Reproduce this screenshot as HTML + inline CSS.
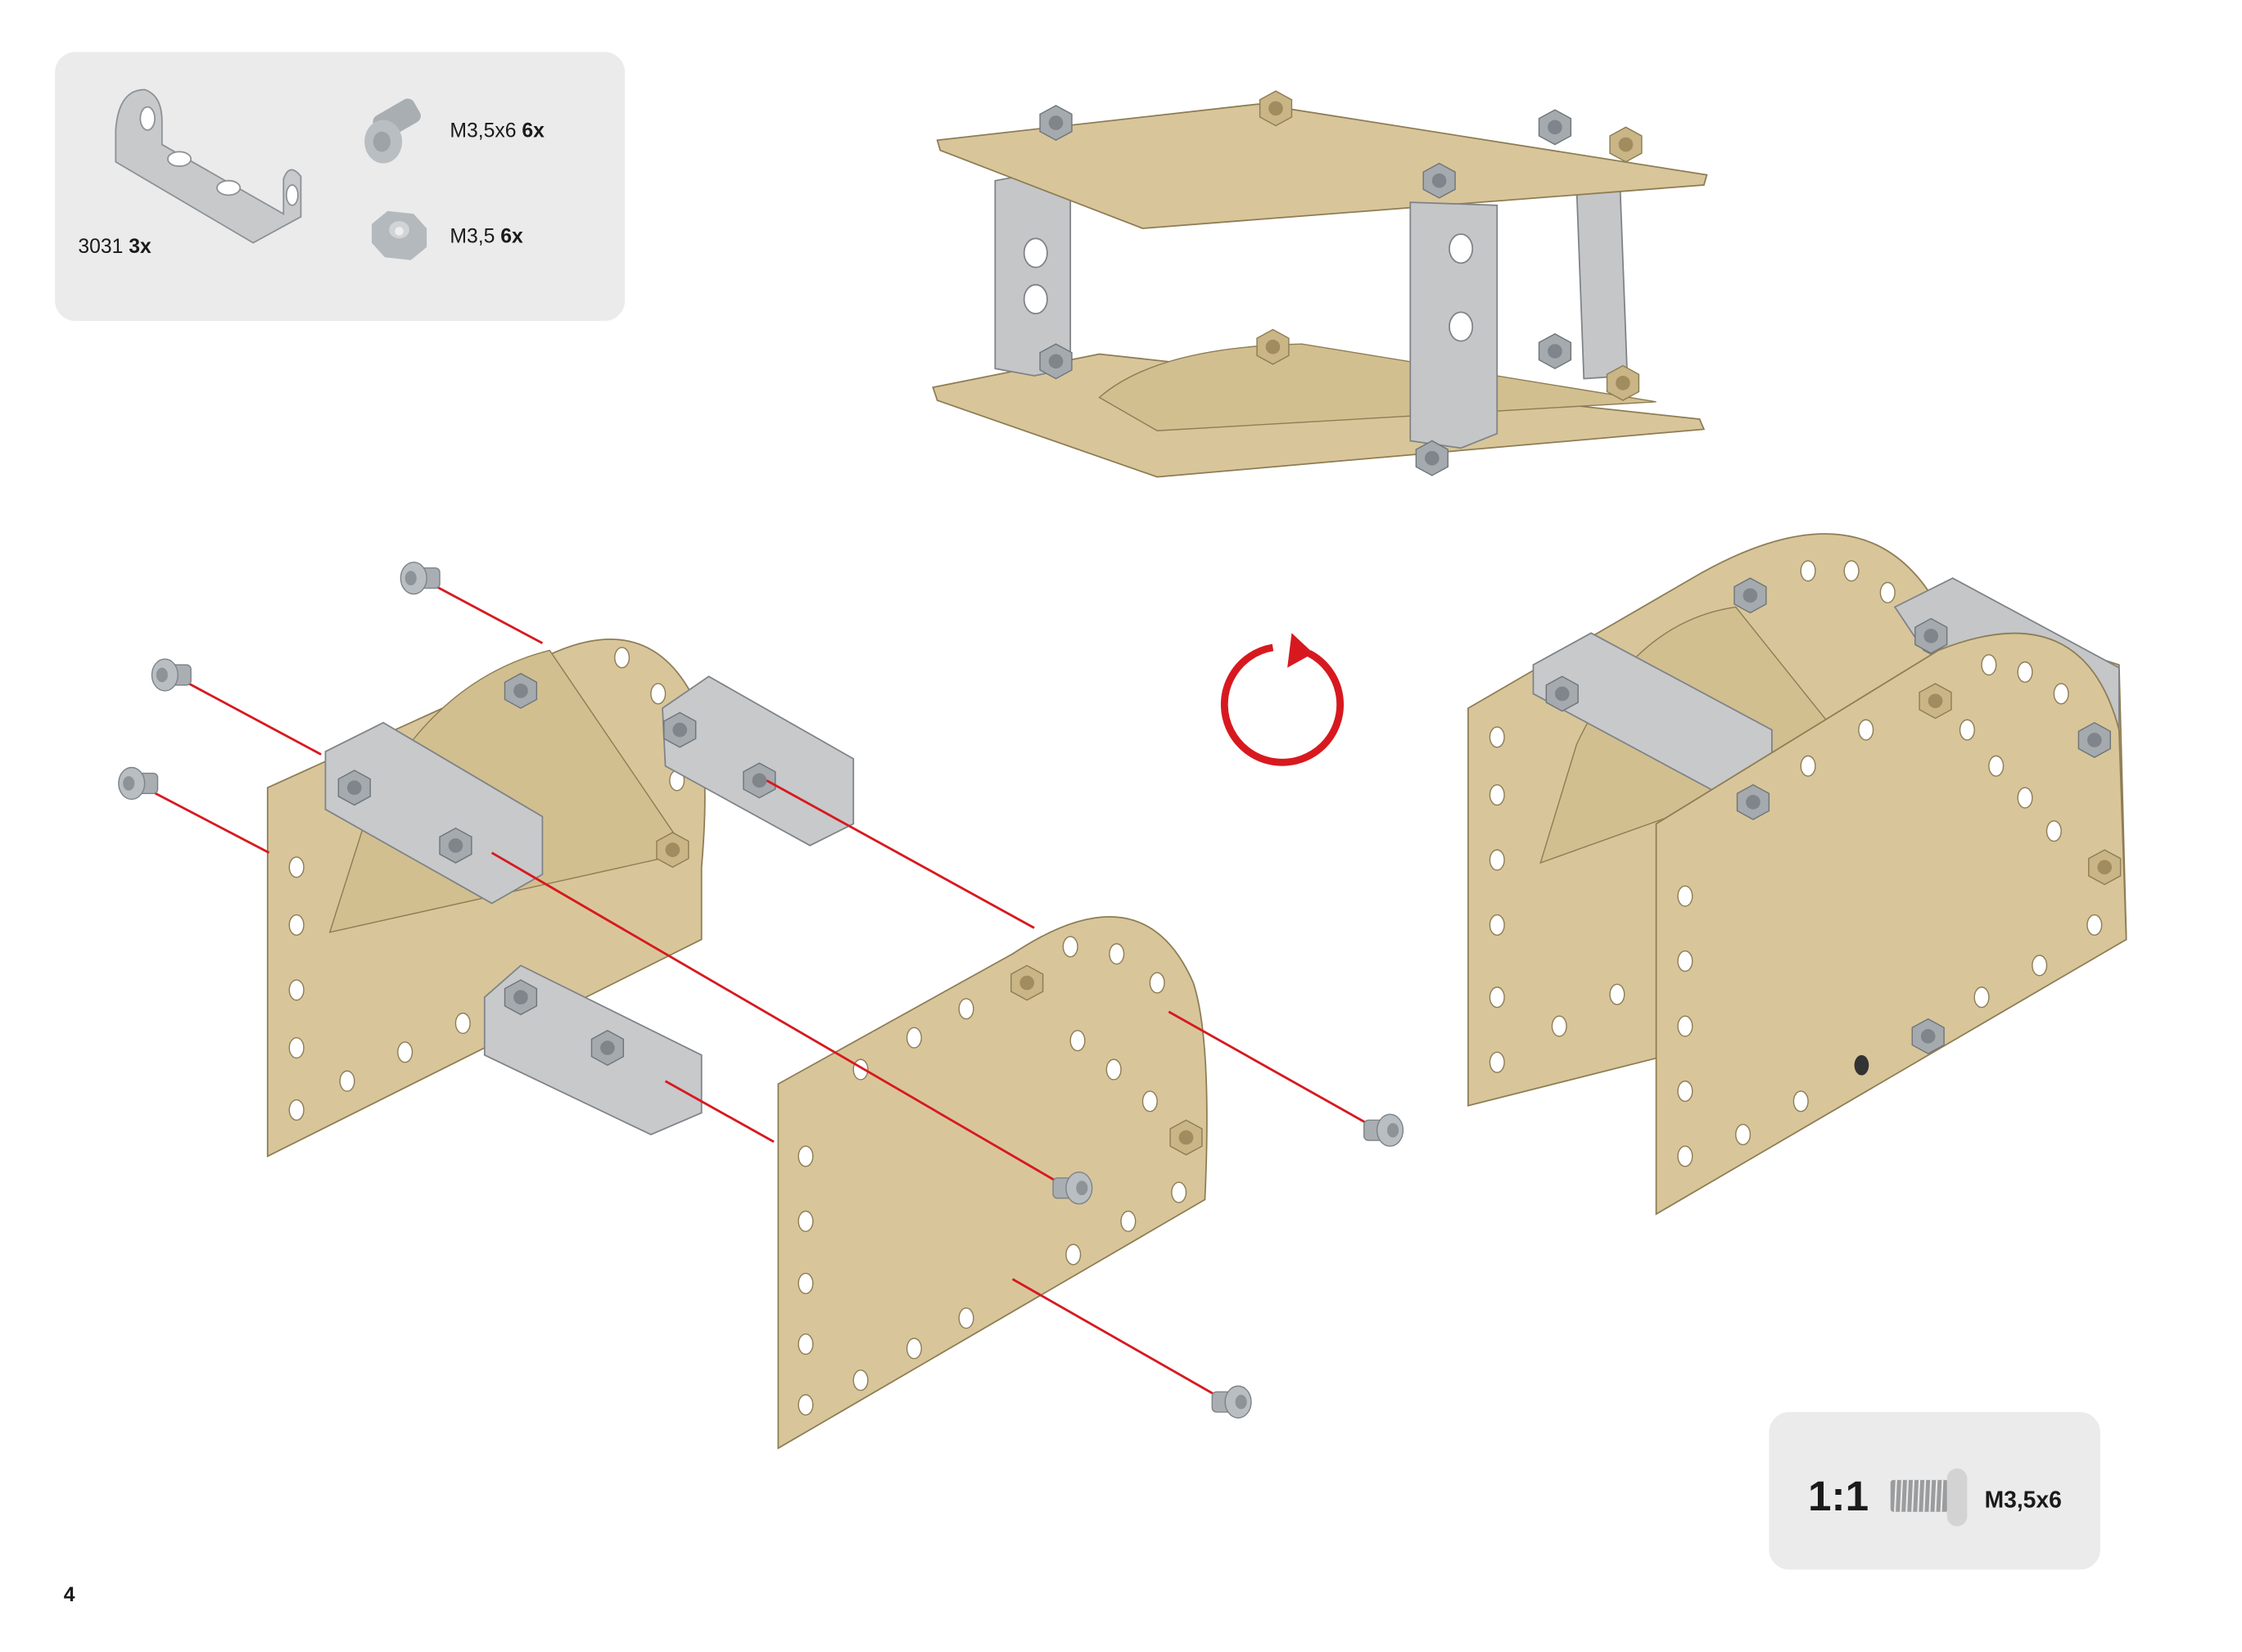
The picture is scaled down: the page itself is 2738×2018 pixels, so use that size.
<!DOCTYPE html>
<html><head><meta charset="utf-8"><style>
html,body{margin:0;padding:0;background:#fff;}
svg{display:block;}
text{font-family:"Liberation Sans",sans-serif;fill:#1a1a1a;}
</style></head><body>
<svg width="2738" height="2018" viewBox="0 0 1550 1143" preserveAspectRatio="none" xmlns="http://www.w3.org/2000/svg">
<defs>
<g id="bolt">
  <rect x="-4" y="-7" width="16" height="14" rx="3" fill="#a9aeb2" stroke="#7d8387" stroke-width="0.8"/>
  <ellipse cx="-6" cy="0" rx="9" ry="11" fill="#b9bec2" stroke="#7d8387" stroke-width="0.8"/>
  <ellipse cx="-8" cy="0" rx="4" ry="5" fill="#8d9397"/>
</g>
<g id="nut">
  <polygon points="-11,-6 0,-12 11,-6 11,6 0,12 -11,6" fill="#a5aaae" stroke="#6f757a" stroke-width="0.8"/>
  <circle r="5" fill="#7f858a"/>
</g>
<g id="bnut">
  <polygon points="-11,-6 0,-12 11,-6 11,6 0,12 -11,6" fill="#c9b585" stroke="#8e7d55" stroke-width="0.8"/>
  <circle r="5" fill="#a08c5e"/>
</g>
<g id="hole"><ellipse rx="5" ry="7" fill="#fff" stroke="#8e7d55" stroke-width="0.8"/></g>
</defs>

<!-- Parts box -->
<rect x="38" y="36" width="394" height="186" rx="14" fill="#ebebeb"/>
<path d="M80,90 Q82,62 100,62 Q112,66 112,84 L112,100 L196,148 L196,124 Q200,112 208,122 L208,150 L175,168 L80,112 Z" fill="#c7c9cb" stroke="#8d9195" stroke-width="1"/>
<ellipse cx="102" cy="82" rx="5" ry="8" fill="#fff" stroke="#8d9195"/>
<ellipse cx="124" cy="110" rx="8" ry="5" fill="#fff" stroke="#8d9195"/>
<ellipse cx="158" cy="130" rx="8" ry="5" fill="#fff" stroke="#8d9195"/>
<ellipse cx="202" cy="135" rx="4" ry="7" fill="#fff" stroke="#8d9195"/>
<text x="54" y="175" font-size="14">3031 <tspan font-weight="bold">3x</tspan></text>
<g transform="translate(265,98)"><rect x="0" y="-18" width="32" height="18" rx="5" fill="#a9aeb2" transform="rotate(-30)"/><ellipse cx="0" cy="0" rx="13" ry="15" fill="#b9bec2"/><ellipse cx="-1" cy="0" rx="6" ry="7" fill="#9ea3a7"/></g>
<text x="311" y="95" font-size="14">M3,5x6 <tspan font-weight="bold">6x</tspan></text>
<g transform="translate(276,163)"><polygon points="-19,-8 -8,-17 10,-15 19,-5 19,8 8,17 -10,15 -19,5" fill="#b4b9bd"/><ellipse cx="0" cy="-4" rx="7" ry="6" fill="#d1d4d6"/><ellipse cx="0" cy="-3" rx="3" ry="3" fill="#eee"/></g>
<text x="311" y="168" font-size="14">M3,5 <tspan font-weight="bold">6x</tspan></text>

<!-- Top model -->
<polygon points="645,268 760,245 1175,290 1178,297 800,330 648,277" fill="#d8c69a" stroke="#8e7d55" stroke-width="1"/>
<path d="M760,275 Q800,240 900,238 L1145,278 L800,298 Z" fill="#d2bf90" stroke="#8e7d55" stroke-width="0.8"/>
<polygon points="688,125 715,120 740,125 740,255 715,260 688,255" fill="#c4c6c8" stroke="#7f8387"/>
<polygon points="1090,130 1120,128 1125,260 1095,262" fill="#c4c6c8" stroke="#7f8387"/>
<polygon points="648,97 870,72 1180,121 1178,128 790,158 650,104" fill="#d8c69a" stroke="#8e7d55" stroke-width="1"/>
<polygon points="975,140 1035,142 1035,300 1010,310 975,305" fill="#c4c6c8" stroke="#7f8387"/>
<ellipse cx="716" cy="207" rx="8" ry="10" fill="#fff" stroke="#7f8387"/>
<ellipse cx="716" cy="175" rx="8" ry="10" fill="#fff" stroke="#7f8387"/>
<ellipse cx="1010" cy="172" rx="8" ry="10" fill="#fff" stroke="#7f8387"/>
<ellipse cx="1010" cy="226" rx="8" ry="10" fill="#fff" stroke="#7f8387"/>
<use href="#nut" x="730" y="85"/><use href="#bnut" x="882" y="75"/><use href="#nut" x="1075" y="88"/><use href="#bnut" x="1124" y="100"/><use href="#nut" x="995" y="125"/>
<use href="#nut" x="730" y="250"/><use href="#bnut" x="880" y="240"/><use href="#nut" x="1075" y="243"/><use href="#bnut" x="1122" y="265"/><use href="#nut" x="990" y="317"/>

<!-- Left assembly -->
<path d="M185,545 L350,470 Q440,410 478,480 Q492,520 485,600 L485,650 L185,800 Z" fill="#d8c69a" stroke="#8e7d55" stroke-width="1"/>
<path d="M228,645 L255,560 Q300,470 380,450 L475,590 Z" fill="#d2bf90" stroke="#8e7d55" stroke-width="0.8"/>
<use href="#hole" x="205" y="600"/><use href="#hole" x="205" y="640"/><use href="#hole" x="205" y="685"/><use href="#hole" x="205" y="725"/><use href="#hole" x="205" y="768"/>
<use href="#hole" x="240" y="748"/><use href="#hole" x="280" y="728"/><use href="#hole" x="320" y="708"/><use href="#hole" x="430" y="455"/><use href="#hole" x="455" y="480"/><use href="#hole" x="468" y="540"/>
<polygon points="225,520 265,500 375,565 375,605 340,625 225,560" fill="#c7c9cb" stroke="#7f8387"/>
<polygon points="458,490 490,468 590,525 590,570 560,585 460,530" fill="#c7c9cb" stroke="#7f8387"/>
<polygon points="335,690 360,668 485,730 485,770 450,785 335,730" fill="#c7c9cb" stroke="#7f8387"/>
<use href="#nut" x="360" y="478"/><use href="#nut" x="245" y="545"/><use href="#nut" x="315" y="585"/><use href="#bnut" x="465" y="588"/><use href="#nut" x="470" y="505"/><use href="#nut" x="525" y="540"/><use href="#nut" x="360" y="690"/><use href="#nut" x="420" y="725"/>

<!-- Middle plate -->
<path d="M538,750 L700,660 Q790,600 825,680 Q838,720 833,830 L538,1002 Z" fill="#d8c69a" stroke="#8e7d55" stroke-width="1"/>
<use href="#hole" x="557" y="800"/><use href="#hole" x="557" y="845"/><use href="#hole" x="557" y="888"/><use href="#hole" x="557" y="930"/><use href="#hole" x="557" y="972"/>
<use href="#hole" x="595" y="955"/><use href="#hole" x="632" y="933"/><use href="#hole" x="668" y="912"/><use href="#hole" x="742" y="868"/><use href="#hole" x="780" y="845"/><use href="#hole" x="815" y="825"/>
<use href="#hole" x="595" y="740"/><use href="#hole" x="632" y="718"/><use href="#hole" x="668" y="698"/><use href="#hole" x="745" y="720"/><use href="#hole" x="770" y="740"/><use href="#hole" x="795" y="762"/><use href="#hole" x="740" y="655"/><use href="#hole" x="772" y="660"/><use href="#hole" x="800" y="680"/>
<use href="#bnut" x="710" y="680"/><use href="#bnut" x="820" y="787"/>

<!-- Red lines -->
<g stroke="#d7191f" stroke-width="1.6" fill="none">
<line x1="300" y1="405" x2="375" y2="445"/>
<line x1="125" y1="470" x2="222" y2="522"/>
<line x1="100" y1="545" x2="186" y2="590"/>
<line x1="340" y1="590" x2="735" y2="820"/>
<line x1="530" y1="540" x2="715" y2="642"/>
<line x1="460" y1="748" x2="535" y2="790"/>
<line x1="808" y1="700" x2="950" y2="780"/>
<line x1="700" y1="885" x2="840" y2="965"/>
</g>
<use href="#bolt" x="292" y="400"/><use href="#bolt" x="120" y="467"/><use href="#bolt" x="97" y="542"/>
<g transform="translate(740,822) scale(-1,1)"><use href="#bolt"/></g>
<g transform="translate(955,782) scale(-1,1)"><use href="#bolt"/></g>
<g transform="translate(850,970) scale(-1,1)"><use href="#bolt"/></g>

<!-- Rotation arrow -->
<path d="M905,452 A40,40 0 1 1 880,448" fill="none" stroke="#d7191f" stroke-width="5"/>
<polygon points="893,438 908,452 890,462" fill="#d7191f"/>

<!-- Right assembly -->
<path d="M1015,490 L1170,400 Q1290,330 1340,420 L1465,460 L1470,650 L1015,765 Z" fill="#d8c69a" stroke="#8e7d55" stroke-width="1"/>
<polygon points="1310,420 1350,400 1465,462 1465,520 1330,450" fill="#c4c6c8" stroke="#7f8387"/>
<path d="M1065,597 L1090,515 Q1130,430 1200,420 L1280,520 Z" fill="#d2bf90" stroke="#8e7d55" stroke-width="0.8"/>
<use href="#hole" x="1035" y="510"/><use href="#hole" x="1035" y="550"/><use href="#hole" x="1035" y="595"/><use href="#hole" x="1035" y="640"/><use href="#hole" x="1035" y="690"/><use href="#hole" x="1035" y="735"/>
<use href="#hole" x="1078" y="710"/><use href="#hole" x="1118" y="688"/><use href="#hole" x="1250" y="395"/><use href="#hole" x="1280" y="395"/><use href="#hole" x="1305" y="410"/>
<polygon points="1060,460 1100,438 1225,505 1225,535 1190,550 1060,480" fill="#c7c9cb" stroke="#7f8387"/>
<use href="#nut" x="1210" y="412"/><use href="#nut" x="1080" y="480"/><use href="#nut" x="1335" y="440"/>
<path d="M1145,570 L1340,450 Q1440,410 1465,505 L1470,650 L1145,840 Z" fill="#d8c69a" stroke="#8e7d55" stroke-width="1"/>
<use href="#hole" x="1165" y="620"/><use href="#hole" x="1165" y="665"/><use href="#hole" x="1165" y="710"/><use href="#hole" x="1165" y="755"/><use href="#hole" x="1165" y="800"/>
<use href="#hole" x="1205" y="785"/><use href="#hole" x="1245" y="762"/><use href="#hole" x="1370" y="690"/><use href="#hole" x="1410" y="668"/><use href="#hole" x="1448" y="640"/>
<use href="#hole" x="1250" y="530"/><use href="#hole" x="1290" y="505"/><use href="#hole" x="1360" y="505"/><use href="#hole" x="1380" y="530"/><use href="#hole" x="1400" y="552"/><use href="#hole" x="1420" y="575"/><use href="#hole" x="1375" y="460"/><use href="#hole" x="1400" y="465"/><use href="#hole" x="1425" y="480"/>
<ellipse cx="1287" cy="737" rx="5" ry="7" fill="#333"/>
<use href="#nut" x="1212" y="555"/><use href="#bnut" x="1338" y="485"/><use href="#nut" x="1448" y="512"/><use href="#bnut" x="1455" y="600"/><use href="#nut" x="1333" y="717"/>

<!-- Scale box -->
<rect x="1223" y="977" width="229" height="109" rx="14" fill="#ebebeb"/>
<text x="1250" y="1045" font-size="29" font-weight="bold">1:1</text>
<rect x="1307" y="1024" width="40" height="22" rx="2" fill="#9a9c9e"/>
<g stroke="#ebebeb" stroke-width="1.2">
<line x1="1311" y1="1024" x2="1310" y2="1046"/><line x1="1315" y1="1024" x2="1314" y2="1046"/><line x1="1319" y1="1024" x2="1318" y2="1046"/><line x1="1323" y1="1024" x2="1322" y2="1046"/><line x1="1327" y1="1024" x2="1326" y2="1046"/><line x1="1331" y1="1024" x2="1330" y2="1046"/><line x1="1335" y1="1024" x2="1334" y2="1046"/><line x1="1339" y1="1024" x2="1338" y2="1046"/><line x1="1343" y1="1024" x2="1342" y2="1046"/>
</g>
<rect x="1346" y="1016" width="14" height="40" rx="7" fill="#d3d3d3"/>
<text x="1372" y="1043" font-size="16" font-weight="bold">M3,5x6</text>

<text x="44" y="1108" font-size="14" font-weight="bold">4</text>
</svg>
</body></html>
